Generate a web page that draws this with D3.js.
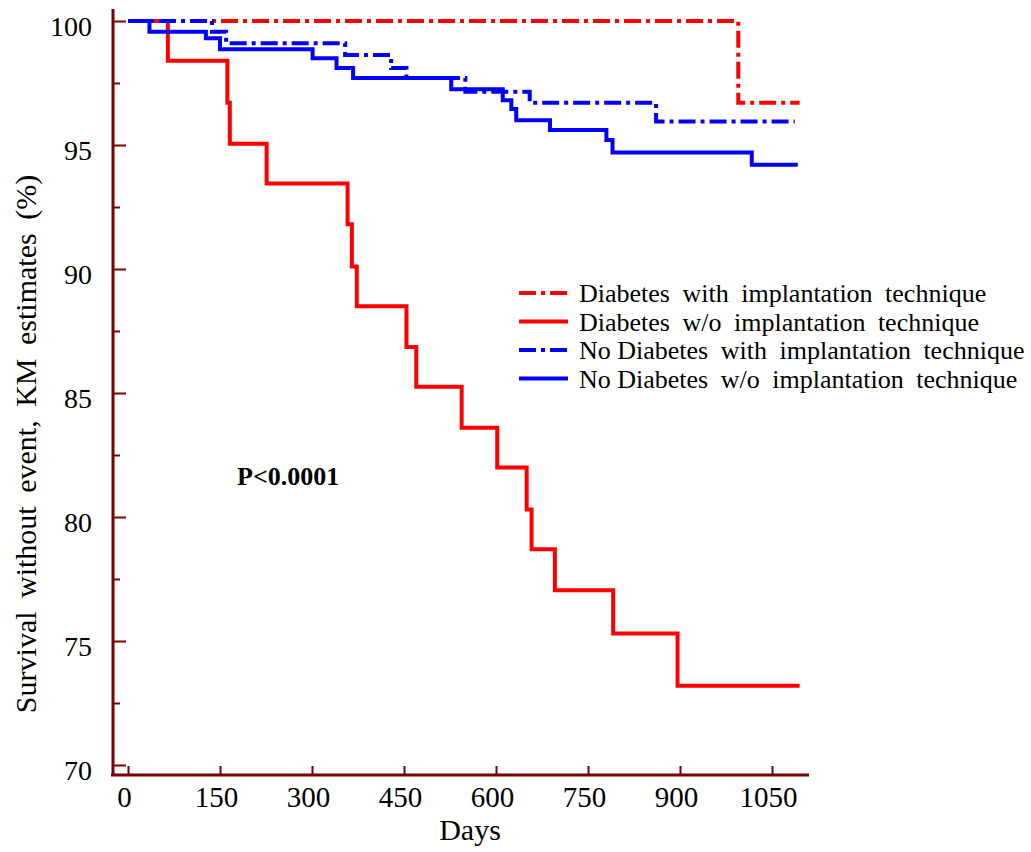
<!DOCTYPE html>
<html>
<head>
<meta charset="utf-8">
<script src="https://cdn.jsdelivr.net/npm/d3@7/dist/d3.min.js"></script>
<style>
    body { margin: 0; background: #fff; }
    text { font-family: "Liberation Serif", "Times New Roman", serif; }
</style>
</head>
<body>
<div id="chart"></div>
<script>
// tick labels
const xTicks = [0, 150, 300, 450, 600, 750, 900, 1050];
const yTicks = [70, 75, 80, 85, 90, 95, 100];
const yMinorTicks = [72.5, 77.5, 82.5, 87.5, 92.5, 97.5];

// Kaplan-Meier steps: day of each drop and survival (%) after it, last entry = end of follow-up
const diabWithDays = [0, 995, 1095];
const diabWithSurv = [100, 96.7, 96.7];

const diabWithoutDays = [0, 65, 162, 166, 226, 358, 365, 373, 454, 470, 544, 602, 650, 658, 696, 791, 896, 1095];
const diabWithoutSurv = [100, 98.4, 96.7, 95.05, 93.45, 91.8, 90.1, 88.5, 86.85, 85.25, 83.6, 82.0, 80.3, 78.7, 77.05, 75.3, 73.2, 73.2];

const noDiabWithDays = [0, 137, 160, 354, 429, 454, 550, 655, 861, 1087];
const noDiabWithSurv = [100, 99.57, 99.1, 98.63, 98.1, 97.7, 97.15, 96.7, 95.95, 95.95];

const noDiabWithoutDays = [0, 35, 127, 150, 301, 340, 367, 527, 611, 625, 633, 688, 780, 790, 1017, 1092];
const noDiabWithoutSurv = [100, 99.57, 99.3, 98.86, 98.5, 98.1, 97.7, 97.25, 96.8, 96.45, 96.0, 95.6, 95.2, 94.7, 94.2, 94.2];

const seriesLabels = [
    "Diabetes with implantation technique",
    "Diabetes w/o implantation technique",
    "No Diabetes with implantation technique",
    "No Diabetes w/o implantation technique"
];

const width = 1031, height = 852;
const axisColor = "#7a0000";
const dashDot = "17,5,4,5";

const svg = d3.select("#chart")
    .append("svg")
    .attr("width", width)
    .attr("height", height);

const x = d3.scaleLinear().domain([0, 1050]).range([128, 772]);
const y = d3.scaleLinear().domain([70, 100]).range([765, 21]);

const xAxisY = 775, yAxisX = 113;

// x axis
const gx = svg.append("g")
    .attr("transform", `translate(0,${xAxisY})`)
    .call(d3.axisBottom(x).tickValues(xTicks).tickSize(-9).tickPadding(11).tickFormat(d => d));
gx.select(".domain").remove();
gx.selectAll("line").attr("stroke", axisColor).attr("stroke-width", 2);
gx.selectAll("text")
    .attr("dx", -4)
    .style("font-size", "29px")
    .style("font-family", "Liberation Serif")
    .attr("fill", "#000");

// y axis
const gy = svg.append("g")
    .attr("transform", `translate(${yAxisX},0)`)
    .call(d3.axisLeft(y).tickValues(yTicks).tickSize(-13).tickPadding(21).tickFormat(d => d));
gy.select(".domain").remove();
gy.selectAll("line").attr("stroke", axisColor).attr("stroke-width", 2);
gy.selectAll("text")
    .attr("dy", "0.53em")
    .style("font-size", "28px")
    .style("font-family", "Liberation Serif")
    .attr("fill", "#000");

const gyMinor = svg.append("g")
    .attr("transform", `translate(${yAxisX},0)`)
    .call(d3.axisLeft(y).tickValues(yMinorTicks).tickSize(-7).tickFormat(""));
gyMinor.select(".domain").remove();
gyMinor.selectAll("line").attr("stroke", axisColor).attr("stroke-width", 2);

// axis lines
svg.append("line")
    .attr("x1", 111).attr("x2", 809)
    .attr("y1", xAxisY).attr("y2", xAxisY)
    .attr("stroke", axisColor).attr("stroke-width", 3);
svg.append("line")
    .attr("x1", yAxisX).attr("x2", yAxisX)
    .attr("y1", 9).attr("y2", xAxisY + 1)
    .attr("stroke", axisColor).attr("stroke-width", 3);

// curves
const series = [
    { days: diabWithDays, surv: diabWithSurv, color: "#ff0000", dash: dashDot },
    { days: diabWithoutDays, surv: diabWithoutSurv, color: "#ff0000", dash: null },
    { days: noDiabWithDays, surv: noDiabWithSurv, color: "#0000ff", dash: dashDot },
    { days: noDiabWithoutDays, surv: noDiabWithoutSurv, color: "#0000ff", dash: null }
];

const line = d3.line()
    .x(d => x(d[0]))
    .y(d => y(d[1]))
    .curve(d3.curveStepAfter);

series.forEach(s => {
    svg.append("path")
        .datum(d3.zip(s.days, s.surv))
        .attr("fill", "none")
        .attr("stroke", s.color)
        .attr("stroke-width", 4)
        .attr("stroke-dasharray", s.dash)
        .attr("d", line);
});

// legend
const legend = svg.selectAll(".legend")
    .data(series)
    .enter().append("g")
    .attr("class", "legend")
    .attr("transform", (d, i) => `translate(0,${302 + i * 28.5})`);

legend.append("line")
    .attr("x1", 519).attr("x2", 568)
    .attr("y1", -9).attr("y2", -9)
    .attr("stroke", d => d.color)
    .attr("stroke-width", 4)
    .attr("stroke-dasharray", d => d.dash);

const legendText = legend.append("text")
    .attr("x", 579)
    .attr("y", 0)
    .style("font-size", "26px")
    .style("word-spacing", "6px");

// "No Diabetes" is set tight in the original, the other words wide apart
legendText.each(function (d, i) {
    const label = seriesLabels[i];
    const t = d3.select(this);
    if (label.startsWith("No ")) {
        t.append("tspan").style("word-spacing", "0px").text("No Diabetes");
        t.append("tspan").text(label.slice("No Diabetes".length));
    } else {
        t.text(label);
    }
});

// p value
svg.append("text")
    .attr("x", 237)
    .attr("y", 485)
    .style("font-size", "26px")
    .style("font-weight", "bold")
    .text("P<0.0001");

// axis titles
svg.append("text")
    .attr("x", 470)
    .attr("y", 840)
    .attr("text-anchor", "middle")
    .style("font-size", "30px")
    .text("Days");

svg.append("text")
    .attr("transform", "translate(36,444) rotate(-90)")
    .attr("text-anchor", "middle")
    .style("font-size", "30px")
    .style("word-spacing", "6px")
    .text("Survival without event, KM estimates (%)");
</script>
</body>
</html>
